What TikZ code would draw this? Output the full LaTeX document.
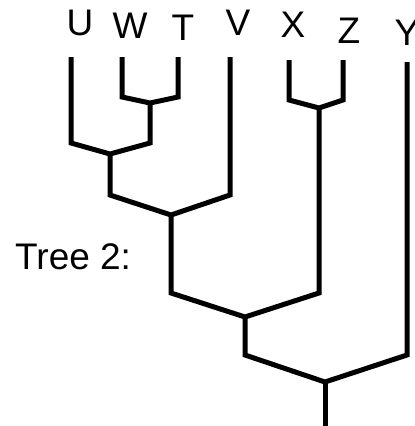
\documentclass[tikz,border=0pt]{standalone}
\usepackage{fontspec}
\setmainfont{Liberation Sans}
\usetikzlibrary{calc}
\providecommand*{\pgfmathsetnewmacro}[2]{%
    \newcommand*{#1}{}% Error if already defined
    \pgfmathsetmacro{#1}{#2}%
}
\tikzset{
    branch/.style = {line width = 5pt, line join = miter, line cap = butt},
    leaf/.style   = {inner sep = 0pt, font = \fontsize{37}{40}\selectfont}
}
\begin{document}
\begin{tikzpicture}[black, x = 1pt, y = -1pt]

\pgfmathsetnewmacro{\ww}{415}
\pgfmathsetnewmacro{\hh}{426}
\useasboundingbox[clip] (0,0) rectangle (\ww,\hh);


% leaf labels and the tops of their lines
\foreach \NAME/\X/\BASE/\TX/\TY in {
                        U/80/35/71/57,
                        W/130/38/122/57,
                        T/183/40/178/57,
                        V/238/35/230/57,
                        X/293/37/289/60,
                        Z/349/43/343/60,
                        Y/407/45/407/62}{
    \node [leaf, anchor = base] (\NAME) at (\X,\BASE) {\NAME};
    \coordinate (t\NAME) at (\TX,\TY);
    };

% inner nodes
\coordinate (j1) at (150,103);
\coordinate (j2) at (110,154);
\coordinate (j3) at (171,215);
\coordinate (j4) at (319,108);
\coordinate (j5) at (245,317);
\coordinate (j6) at (325,382);
\coordinate (root) at (325,\hh);


\foreach \LEFT/\RIGHT/\JOIN/\ELBOW in {
                        tW/tT/j1/97,
                        tU/j1/j2/143,
                        j2/tV/j3/195,
                        tX/tZ/j4/100,
                        j3/j4/j5/293,
                        j5/tY/j6/355}{
    \coordinate (h) at (0,\ELBOW);
    \draw[branch] (\LEFT) -- (\LEFT |- h) -- (\JOIN) -- (\RIGHT |- h) -- (\RIGHT);
    };

\draw[branch] (j6) -- (root);

\node [leaf, anchor = base west] (title) at (15,269) {Tree 2:};

\end{tikzpicture}
\end{document}
